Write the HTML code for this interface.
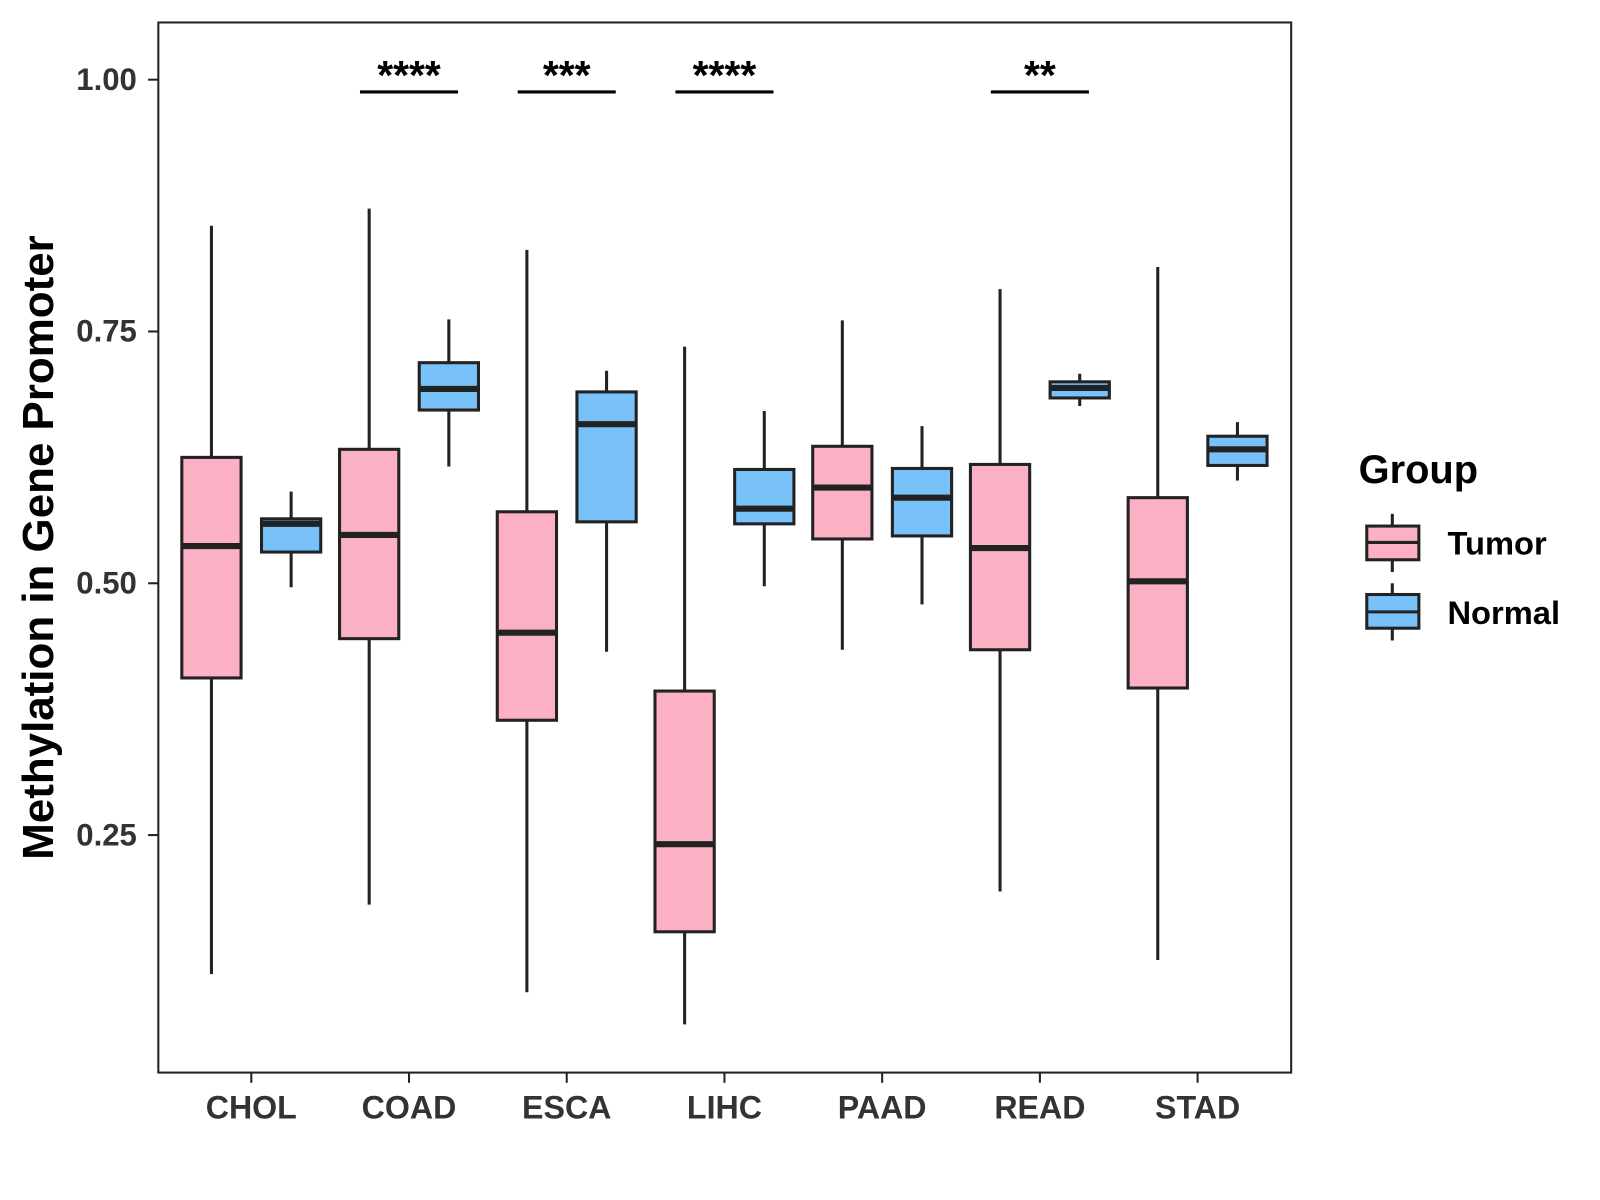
<!DOCTYPE html>
<html><head><meta charset="utf-8"><style>
html,body{margin:0;padding:0;background:#fff;}
svg{display:block;font-family:"Liberation Sans",Arial,sans-serif;}
</style></head><body>
<svg id="chart" width="1600" height="1200" viewBox="0 0 1600 1200">
<g transform="scale(1.0215)">
<rect x="155" y="22" width="1109" height="1028" fill="#fff" stroke="#222" stroke-width="2"/>
<g id="marks"></g>
<g id="axes"></g>
<text transform="translate(52,536) rotate(-90)" text-anchor="middle" font-size="43" font-weight="bold" fill="#000">Methylation in Gene Promoter</text>
<g>
<text x="1330" y="473" font-size="39" font-weight="bold" fill="#000">Group</text>
<g>
<line x1="1363" y1="503" x2="1363" y2="560" stroke="#222" stroke-width="3"/>
<rect x="1338" y="515" width="51" height="33" fill="#FBB1C3" stroke="#222" stroke-width="3"/>
<line x1="1338" y1="531" x2="1389" y2="531" stroke="#222" stroke-width="3"/>
<text x="1417" y="543" font-size="32" font-weight="bold" fill="#000">Tumor</text>
</g>
<g>
<line x1="1363" y1="571" x2="1363" y2="627" stroke="#222" stroke-width="3"/>
<rect x="1338" y="582" width="51" height="33" fill="#79C1F9" stroke="#222" stroke-width="3"/>
<line x1="1338" y1="599" x2="1389" y2="599" stroke="#222" stroke-width="3"/>
<text x="1417" y="611" font-size="32" font-weight="bold" fill="#000">Normal</text>
</g>
</g>
</g>
</svg>
<script>
const categories = ["CHOL","COAD","ESCA","LIHC","PAAD","READ","STAD"];
const tumorStats = [
 [0.112,0.406,0.537,0.625,0.855],
 [0.181,0.445,0.548,0.633,0.872],
 [0.094,0.364,0.451,0.571,0.831],
 [0.062,0.154,0.241,0.393,0.735],
 [0.434,0.544,0.595,0.636,0.761],
 [0.194,0.434,0.535,0.618,0.792],
 [0.126,0.396,0.502,0.585,0.814]];
const normalStats = [
 [0.496,0.531,0.559,0.564,0.591],
 [0.616,0.672,0.693,0.719,0.762],
 [0.432,0.561,0.658,0.690,0.711],
 [0.497,0.559,0.574,0.613,0.671],
 [0.479,0.547,0.585,0.614,0.656],
 [0.676,0.684,0.694,0.700,0.708],
 [0.602,0.617,0.633,0.646,0.660]];
const sigCategories = ["COAD","ESCA","LIHC","READ"];
const sigLabels = ["****","***","****","**"];
const yTicks = [0.25,0.50,0.75,1.00];
const yTickLabels = ["0.25","0.50","0.75","1.00"];

const NS="http://www.w3.org/2000/svg";
const y = v => 78 + (1 - v) * 986;
const x = i => 246 + i * 154.4;
function mk(tag, attrs, parent){const e=document.createElementNS(NS,tag);for(const k in attrs)e.setAttribute(k,attrs[k]);parent.appendChild(e);return e;}
const marks=document.getElementById('marks'), axes=document.getElementById('axes');

function box(cx, s, fill, name){
  const g=mk('g',{},marks);
  
  
  mk('line',{x1:cx,x2:cx,y1:y(s[4]),y2:y(s[0]),stroke:'#222','stroke-width':3},g);
  mk('rect',{x:cx-29,y:y(s[3]),width:58,height:y(s[1])-y(s[3]),fill:fill,stroke:'#222','stroke-width':3},g);
  mk('line',{x1:cx-29,x2:cx+29,y1:y(s[2]),y2:y(s[2]),stroke:'#222','stroke-width':6},g);
}
categories.forEach((c,i)=>{
  box(x(i)-39, tumorStats[i], '#FBB1C3', 'box-'+c.toLowerCase()+'-tumor');
  box(x(i)+39, normalStats[i], '#79C1F9', 'box-'+c.toLowerCase()+'-normal');
  mk('line',{x1:x(i),x2:x(i),y1:1050,y2:1060,stroke:'#222','stroke-width':2},axes);
  const t=mk('text',{x:x(i),y:1095,'text-anchor':'middle','font-size':31.5,'font-weight':'bold',fill:'#333'},axes);
  t.textContent=c;
  
  
});
yTicks.forEach((v,i)=>{
  mk('line',{x1:145,x2:155,y1:y(v),y2:y(v),stroke:'#222','stroke-width':2},axes);
  const t=mk('text',{x:134,y:y(v)+10,'text-anchor':'end','font-size':30.5,'font-weight':'bold',fill:'#333'},axes);
  t.textContent=yTickLabels[i];
  
  
});
sigCategories.forEach((c,k)=>{
  const i=categories.indexOf(c);
  const g=mk('g',{},marks);
  
  
  mk('line',{x1:x(i)-48,x2:x(i)+48,y1:90,y2:90,stroke:'#000','stroke-width':3},g);
  const t=mk('text',{x:x(i),y:87,'text-anchor':'middle','font-size':40,'font-weight':'bold',fill:'#000'},g);
  t.textContent=sigLabels[k];
});
</script>
</body></html>
